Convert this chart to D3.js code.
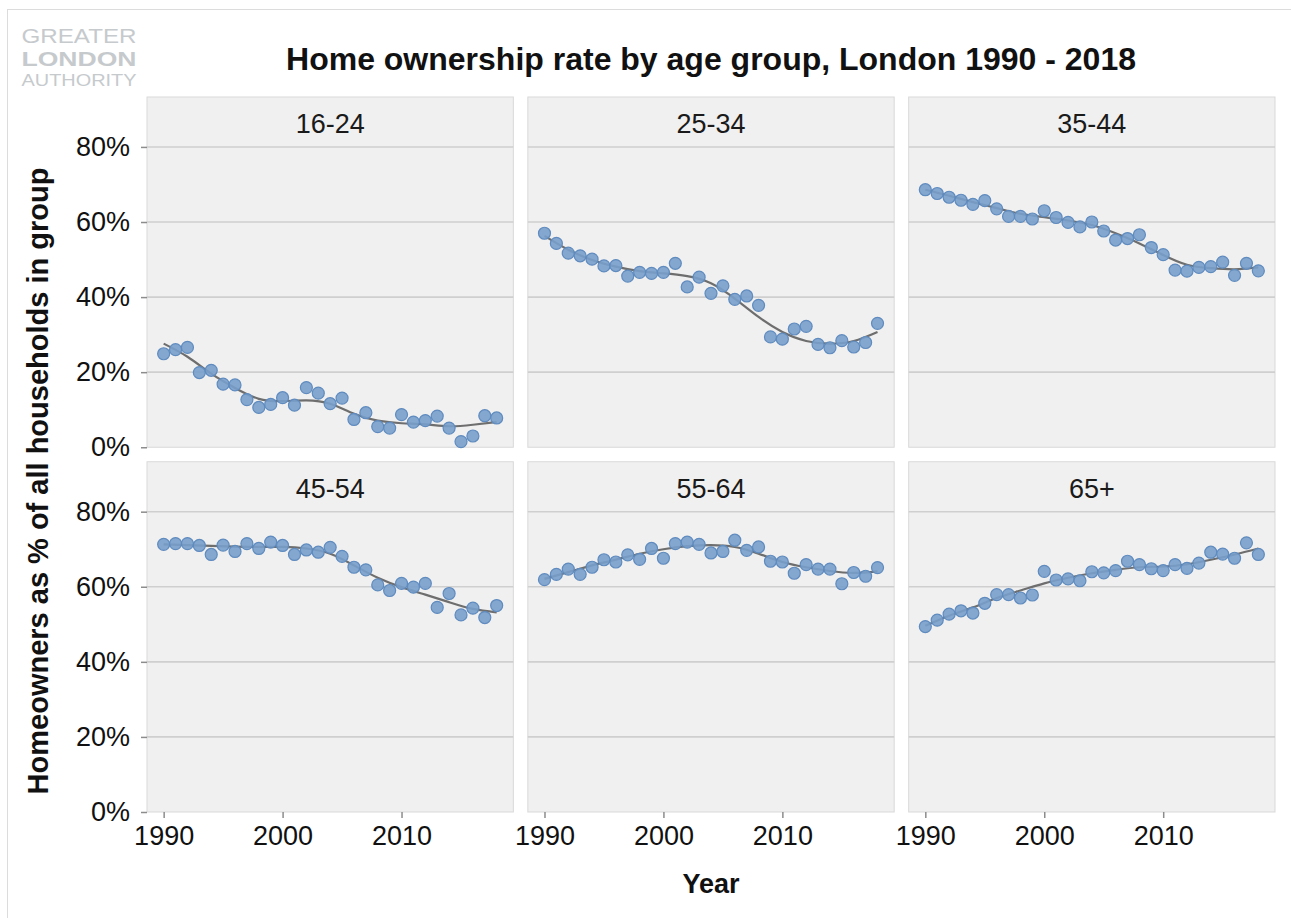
<!DOCTYPE html>
<html>
<head>
<meta charset="utf-8">
<script src="https://cdn.jsdelivr.net/npm/d3@7"></script>
<style>
  body { margin: 0; background: #ffffff; }
  text { font-family: "Liberation Sans", Arial, sans-serif; }
</style>
</head>
<body>
<svg id="chart" width="1291" height="918"></svg>
<script>
// ---- data (values in %) ----
var groups = ["16-24", "25-34", "35-44", "45-54", "55-64", "65+"];
var years = [1990, 1991, 1992, 1993, 1994, 1995, 1996, 1997, 1998, 1999,
             2000, 2001, 2002, 2003, 2004, 2005, 2006, 2007, 2008, 2009,
             2010, 2011, 2012, 2013, 2014, 2015, 2016, 2017, 2018];
var rate_16_24 = [24.9, 26.0, 26.6, 19.9, 20.5, 16.8, 16.6, 12.7, 10.6, 11.4,
                  13.2, 11.2, 15.9, 14.4, 11.6, 13.1, 7.4, 9.2, 5.5, 5.1,
                  8.7, 6.7, 7.1, 8.3, 5.1, 1.5, 3.0, 8.4, 7.8];
var rate_25_34 = [57.0, 54.3, 51.7, 51.0, 50.1, 48.3, 48.4, 45.6, 46.6, 46.3,
                  46.6, 49.0, 42.7, 45.3, 41.0, 43.0, 39.4, 40.3, 37.8, 29.4,
                  28.8, 31.5, 32.2, 27.4, 26.5, 28.4, 26.7, 27.9, 33.0];
var rate_35_44 = [68.6, 67.6, 66.6, 65.8, 64.7, 65.7, 63.5, 61.5, 61.5, 60.8,
                  63.0, 61.2, 59.9, 58.7, 60.0, 57.6, 55.2, 55.6, 56.6, 53.2,
                  51.3, 47.2, 46.9, 47.9, 48.1, 49.3, 45.8, 49.0, 47.0];
var rate_45_54 = [71.3, 71.5, 71.5, 71.0, 68.6, 71.1, 69.4, 71.5, 70.2, 71.9,
                  71.0, 68.6, 69.8, 69.2, 70.5, 68.1, 65.2, 64.5, 60.5, 59.0,
                  60.9, 59.9, 60.9, 54.5, 58.2, 52.5, 54.3, 51.8, 55.0];
var rate_55_64 = [61.9, 63.3, 64.7, 63.3, 65.2, 67.2, 66.6, 68.5, 67.3, 70.2,
                  67.6, 71.5, 71.9, 71.3, 69.0, 69.4, 72.4, 69.7, 70.6, 66.8,
                  66.6, 63.6, 65.9, 64.7, 64.7, 60.8, 63.8, 62.8, 65.1];
var rate_65_plus = [49.4, 51.1, 52.7, 53.6, 53.0, 55.6, 57.9, 57.9, 57.0, 57.8,
                    64.1, 61.8, 62.1, 61.6, 64.0, 63.7, 64.3, 66.8, 65.9, 64.8,
                    64.3, 65.9, 64.9, 66.3, 69.2, 68.7, 67.6, 71.7, 68.6];

// smoothed trend line, read every second year
var smoothYears = [1990, 1992, 1994, 1996, 1998, 2000, 2002, 2004, 2006, 2008, 2010, 2012, 2014, 2016, 2018];
var trend_16_24 = [27.6, 24.1, 19.6, 15.8, 12.9, 12.3, 12.5, 11.6, 8.9, 7.1, 6.4, 6.1, 5.6, 6.0, 6.7];
var trend_25_34 = [56.3, 52.6, 49.9, 48.1, 46.9, 46.3, 45.6, 43.7, 39.6, 34.7, 30.7, 28.3, 27.6, 28.3, 30.7];
var trend_35_44 = [68.6, 67.0, 65.3, 63.7, 62.2, 61.3, 60.4, 59.2, 57.0, 54.3, 51.2, 48.6, 47.7, 47.4, 47.9];
var trend_45_54 = [71.3, 71.1, 70.9, 70.7, 70.6, 70.6, 70.2, 68.8, 65.7, 62.4, 59.9, 57.9, 55.9, 54.1, 53.2];
var trend_55_64 = [62.1, 63.9, 65.7, 67.2, 68.8, 70.0, 70.8, 71.1, 70.6, 68.8, 66.6, 65.2, 64.2, 63.7, 64.1];
var trend_65_plus = [49.6, 52.3, 54.5, 57.0, 59.0, 60.9, 62.4, 63.6, 64.5, 65.2, 65.4, 66.0, 67.2, 68.6, 70.2];

var yTicks = [0, 20, 40, 60, 80];
var xTicks = [1990, 2000, 2010];

var rates = [rate_16_24, rate_25_34, rate_35_44, rate_45_54, rate_55_64, rate_65_plus];
var trends = [trend_16_24, trend_25_34, trend_35_44, trend_45_54, trend_55_64, trend_65_plus];

// ---- layout ----
var svg = d3.select("#chart");
var plot = {left: 147, right: 1275, top: 97, bottom: 812, gap: 14.5};
var ncol = 3;
var panel_w = (plot.right - plot.left - 2 * plot.gap) / ncol;
var panel_h = (plot.bottom - plot.top - plot.gap) / 2;

var x_scale = d3.scaleLinear().domain([1988.6, 2019.4]).range([0, panel_w]);
var y_scale = d3.scaleLinear().domain([0, 93.3]).range([panel_h, 0]);

var line = d3.line()
             .curve(d3.curveNatural)
             .x(function(d) { return x_scale(d[0]); })
             .y(function(d) { return y_scale(d[1]); });

// outer frame (top and left edges only are visible)
svg.append("line").attr("x1", 7).attr("x2", 1291).attr("y1", 9.5).attr("y2", 9.5)
   .attr("stroke", "#dcdcdc").attr("stroke-width", 1);
svg.append("line").attr("x1", 7.5).attr("x2", 7.5).attr("y1", 9).attr("y2", 918)
   .attr("stroke", "#dcdcdc").attr("stroke-width", 1);

// GLA logo: three words squeezed to the same width
// (sizes kept just small enough that the three lines don't touch)
var logo = svg.append("g").attr("fill", "#c6cacd");
logo.append("text").attr("x", 21.5).attr("y", 42.5).attr("font-size", 21)
    .attr("textLength", 115).attr("lengthAdjust", "spacingAndGlyphs").text("GREATER");
logo.append("text").attr("x", 21.5).attr("y", 66.3).attr("font-size", 21).attr("font-weight", "bold")
    .attr("textLength", 115).attr("lengthAdjust", "spacingAndGlyphs").text("LONDON");
logo.append("text").attr("x", 21.5).attr("y", 86.3).attr("font-size", 17)
    .attr("textLength", 115).attr("lengthAdjust", "spacingAndGlyphs").text("AUTHORITY");

// title
svg.append("text")
   .attr("x", (plot.left + plot.right) / 2).attr("y", 70)
   .attr("text-anchor", "middle").attr("font-size", 32).attr("font-weight", "bold").attr("fill", "#111")
   .text("Home ownership rate by age group, London 1990 - 2018");

// axis titles
svg.append("text")
   .attr("transform", "translate(48," + 481 + ") rotate(-90)")
   .attr("text-anchor", "middle").attr("font-size", 29).attr("font-weight", "bold").attr("fill", "#111")
   .text("Homeowners as % of all households in group");
svg.append("text")
   .attr("x", (plot.left + plot.right) / 2).attr("y", 893)
   .attr("text-anchor", "middle").attr("font-size", 27).attr("font-weight", "bold").attr("fill", "#111")
   .text("Year");

/** Draws one facet of the grid.
 * @param {number} i - index of the age group
 */
function drawPanel(i) {
  var col = i % ncol;
  var row = Math.floor(i / ncol);
  var px = plot.left + col * (panel_w + plot.gap);
  var py = plot.top + row * (panel_h + plot.gap);
  var g = svg.append("g").attr("transform", "translate(" + px + "," + py + ")");

  g.append("rect").attr("width", panel_w).attr("height", panel_h)
   .attr("fill", "#f0f0f0").attr("stroke", "#d9d9d9").attr("stroke-width", 1);

  // horizontal grid
  g.selectAll("line.grid")
   .data(yTicks.filter(function(d) { return d > 0; }))
   .enter().append("line")
   .attr("class", "grid")
   .attr("x1", 0).attr("x2", panel_w)
   .attr("y1", function(d) { return y_scale(d); })
   .attr("y2", function(d) { return y_scale(d); })
   .attr("stroke", "#cfcfcf").attr("stroke-width", 1.6);

  // facet label
  g.append("text")
   .attr("x", panel_w / 2).attr("y", 36)
   .attr("text-anchor", "middle").attr("font-size", 27).attr("fill", "#1a1a1a")
   .text(groups[i]);

  // trend
  var trend_pts = smoothYears.map(function(yr, k) { return [yr, trends[i][k]]; });
  g.append("path")
   .attr("d", line(trend_pts))
   .attr("fill", "none").attr("stroke", "#6e6e6e").attr("stroke-width", 2.2);

  // points
  g.selectAll("circle")
   .data(years.map(function(yr, k) { return [yr, rates[i][k]]; }))
   .enter().append("circle")
   .attr("cx", function(d) { return x_scale(d[0]); })
   .attr("cy", function(d) { return y_scale(d[1]); })
   .attr("r", 6)
   .attr("fill", "#779fcb").attr("fill-opacity", 0.9)
   .attr("stroke", "#5f8bbf").attr("stroke-width", 1.2);

  if (col === 0) {
    var ya = g.append("g")
      .call(d3.axisLeft(y_scale).tickValues(yTicks)
        .tickFormat(function(d) { return d + "%"; })
        .tickSize(6).tickPadding(11));
    styleAxis(ya);
  }
  if (row === 1) {
    var xa = g.append("g").attr("transform", "translate(0," + panel_h + ")")
      .call(d3.axisBottom(x_scale).tickValues(xTicks)
        .tickFormat(d3.format("d"))
        .tickSize(6).tickPadding(8));
    styleAxis(xa);
  }
}

/** Common look for the tick marks and labels. */
function styleAxis(sel) {
  sel.select(".domain").remove();
  sel.selectAll(".tick line").attr("stroke", "#8c8c8c").attr("stroke-width", 1.5);
  sel.selectAll(".tick text")
     .attr("font-size", 27)
     .attr("font-family", "'Liberation Sans', Arial, sans-serif")
     .attr("fill", "#111");
}

groups.forEach(function(d, i) { drawPanel(i); });
</script>
</body>
</html>
